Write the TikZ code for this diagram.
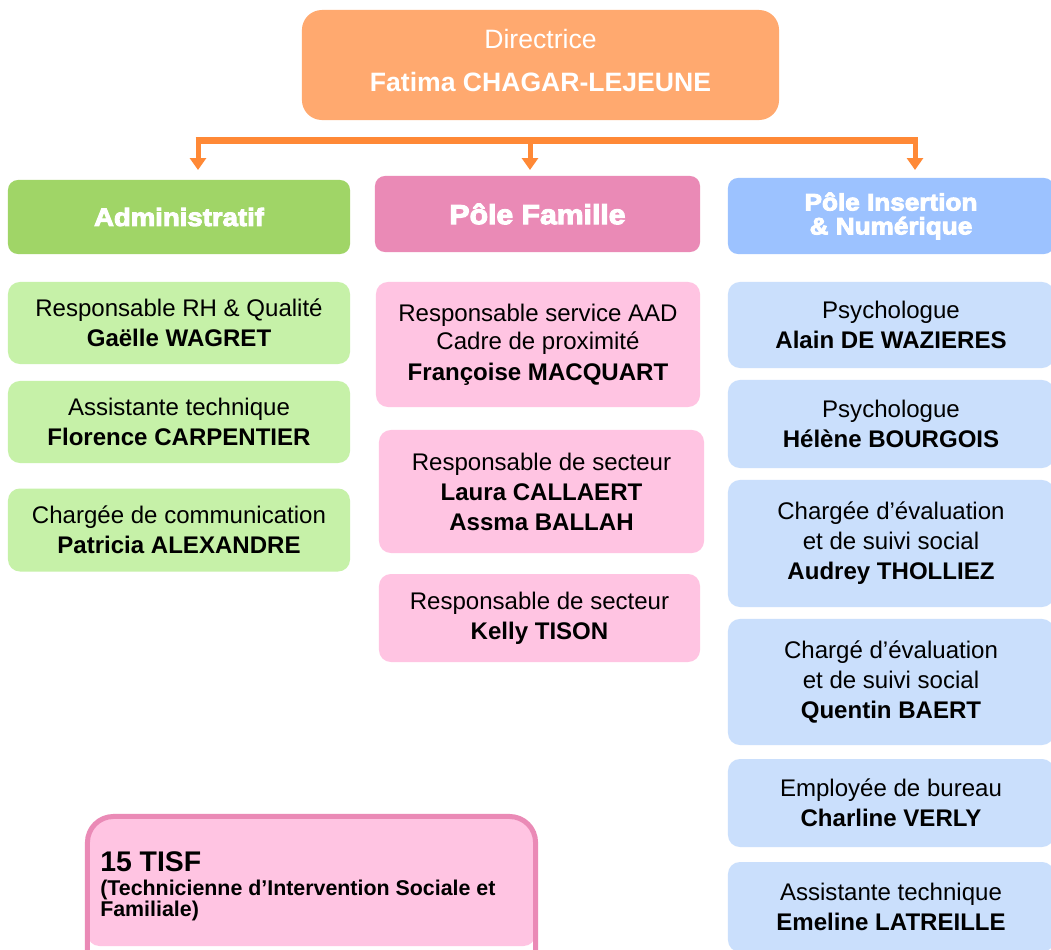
\documentclass[tikz,border=0pt]{standalone}
\usepackage{fontspec}
\setmainfont{Liberation Sans}
\newfontfamily\headfont[FakeBold=4,FakeStretch=1.1]{Liberation Sans Bold}
\usetikzlibrary{arrows.meta}

\definecolor{dirorange}{HTML}{FFA96F}
\definecolor{linkorange}{HTML}{FF8936}
\definecolor{admgreen}{HTML}{A0D567}
\definecolor{fampink}{HTML}{EA8AB6}
\definecolor{insblue}{HTML}{9CC2FF}
\definecolor{litgreen}{HTML}{C6F1A8}
\definecolor{litpink}{HTML}{FFC4E2}
\definecolor{litblue}{HTML}{CADFFC}

\tikzset{
  card/.style={rounded corners=0.3cm, align=center, inner sep=0pt, text=black,
    font=\fontsize{17.1}{21.3}\selectfont},
  greencard/.style={card, fill=litgreen, minimum width=8.55cm},
  pinkcard/.style={card, fill=litpink},
  bluecard/.style={card, fill=litblue, minimum width=8.15cm},
  headcard/.style={rounded corners=0.25cm, align=center, inner sep=0pt, text=white},
  link/.style={linkorange, line width=0.125cm, -{Triangle[width=0.4cm,length=0.3cm]}},
}

\begin{document}
\begin{tikzpicture}[x=0.025cm, y=-0.025cm]
    % page
    \fill[white] (0,0) rectangle (1051,949);
    \useasboundingbox (0,0) rectangle (1051,949);
    \clip (0,0) rectangle (1051,949);

    % draw director
    \node[headcard, fill=dirorange, rounded corners=0.5cm, minimum width=11.925cm, minimum height=2.75cm,
      text depth=0.25cm, font=\fontsize{18.9}{30.5}\selectfont] (dir) at (540.5,65)
      {Directrice\\\textbf{Fatima CHAGAR-LEJEUNE}};

    % draw links
    \coordinate (busW) at (195.5,140);
    \coordinate (busE) at (917.5,140);
    \coordinate (outA) at (198,140);
    \coordinate (outF) at (530,140);
    \coordinate (outI) at (915,140);
    \coordinate (inA) at (198,170);
    \coordinate (inF) at (530,170);
    \coordinate (inI) at (915,170);
    \draw[linkorange, line width=0.175cm] (busW) -- (busE);
    \foreach \p in {A,F,I}
      \draw[link] (out\p) -- (in\p);

    % draw pole headers
    \node[headcard, fill=admgreen, minimum width=8.55cm, minimum height=1.85cm,
      font=\headfont\fontsize{17.8}{18}\selectfont] (admin) at (179,217) {Administratif};
    \node[headcard, fill=fampink, minimum width=8.125cm, minimum height=1.9cm,
      font=\headfont\fontsize{19.5}{20}\selectfont] (famille) at (537.5,214) {Pôle Famille};
    \node[headcard, fill=insblue, minimum width=8.15cm, minimum height=1.9cm,
      font=\headfont\fontsize{16.9}{17}\selectfont] (insertion) at (891,216) {Pôle Insertion\\\& Numérique};

    % draw Administratif
    \node[greencard, minimum height=2.05cm] (rh) at (179,323)
      {Responsable RH \& Qualité\\\textbf{Gaëlle WAGRET}};
    \node[greencard, minimum height=2.05cm] (asstA) at (179,422)
      {Assistante technique\\\textbf{Florence CARPENTIER}};
    \node[greencard, minimum height=2.075cm] (com) at (179,530)
      {Chargée de communication\\\textbf{Patricia ALEXANDRE}};

    % draw Pole Famille
    \node[pinkcard, minimum width=8.1cm, minimum height=3.125cm] (aad) at (538,344.5)
      {Responsable service AAD\\[-1.4pt]Cadre de proximité\\[0.6pt]\textbf{Françoise MACQUART}};
    \node[pinkcard, minimum width=8.125cm, minimum height=3.075cm] (secA) at (541.5,491.5)
      {Responsable de secteur\\\textbf{Laura CALLAERT}\\\textbf{Assma BALLAH}};
    \node[pinkcard, minimum width=8.025cm, minimum height=2.2cm] (secB) at (539.5,618)
      {Responsable de secteur\\\textbf{Kelly TISON}};

    % draw Pole Insertion
    \node[bluecard, minimum height=2.15cm] (psyA) at (891,325)
      {Psychologue\\\textbf{Alain DE WAZIERES}};
    \node[bluecard, minimum height=2.2cm] (psyB) at (891,424)
      {Psychologue\\\textbf{Hélène BOURGOIS}};
    \node[bluecard, minimum height=3.175cm] (evalA) at (891,543.5)
      {Chargée d’évaluation\\et de suivi social\\\textbf{Audrey THOLLIEZ}};
    \node[bluecard, minimum height=3.15cm] (evalB) at (891,682)
      {Chargé d’évaluation\\et de suivi social\\\textbf{Quentin BAERT}};
    \node[bluecard, minimum height=2.2cm] (bureau) at (891,803)
      {Employée de bureau\\\textbf{Charline VERLY}};
    \node[bluecard, minimum height=2.25cm] (asstI) at (891,907)
      {Assistante technique\\\textbf{Emeline LATREILLE}};

    % draw TISF
    \fill[litpink] (87.5,880) [rounded corners=0.65cm] -- (87.5,816.5) -- (535.5,816.5) -- (535.5,880)
      [rounded corners=0.3cm] -- (535.5,946) -- (87.5,946) -- cycle;
    \node[draw=fampink, line width=0.125cm, rounded corners=0.65cm, inner sep=0pt,
      minimum width=11.2cm, minimum height=5cm] (tisf) at (311.5,916.5) {};
    \node[anchor=north west, align=left, inner sep=0pt, font=\bfseries\fontsize{15.2}{15}\selectfont] (tisftxt) at (100,851)
      {{\fontsize{20.2}{15}\selectfont 15 TISF}\\[2pt](Technicienne d’Intervention Sociale et\\Familiale)};
\end{tikzpicture}
\end{document}
